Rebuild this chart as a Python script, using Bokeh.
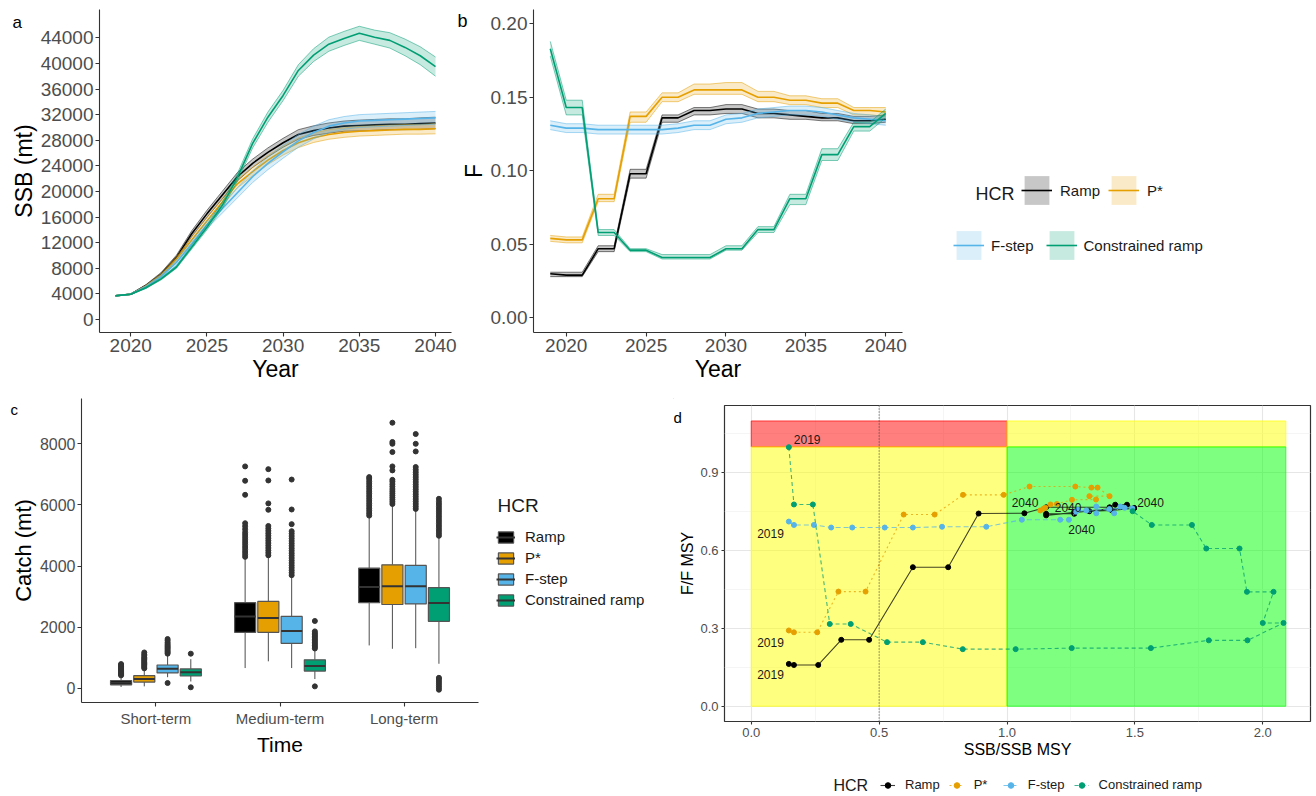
from bokeh.plotting import figure
from bokeh.layouts import column, row
from bokeh.models import Range1d, FixedTicker, NumeralTickFormatter, Legend, LegendItem, Label, Span
from bokeh.embed import file_html
from bokeh.resources import INLINE
from bokeh.core.properties import value

FONT = "Liberation Sans"

# ---------------- data ----------------
HCRS = ["Ramp", "P*", "F-step", "Constrained ramp"]
COLORS = ["#000000", "#E69F00", "#56B4E9", "#009E73"]
YEARS = [2019, 2020, 2021, 2022, 2023, 2024, 2025, 2026, 2027, 2028, 2029,
         2030, 2031, 2032, 2033, 2034, 2035, 2036, 2037, 2038, 2039, 2040]

# panel a: SSB (mt), median and band
SSB_RAMP_MED = [3700, 3950, 5300, 7100, 9700, 13400, 16500, 19400, 22300, 24400, 26100, 27600, 28900, 29500, 29900, 30200, 30300, 30400, 30500, 30500, 30600, 30700]
SSB_RAMP_LO = [3650, 3900, 5150, 6850, 9350, 12950, 15950, 18800, 21650, 23750, 25400, 26900, 28150, 28750, 29100, 29400, 29450, 29550, 29650, 29650, 29700, 29800]
SSB_RAMP_HI = [3750, 4000, 5450, 7350, 10050, 13850, 17050, 20000, 22950, 25050, 26800, 28300, 29650, 30250, 30700, 31000, 31150, 31250, 31350, 31350, 31500, 31600]
SSB_PSTAR_MED = [3700, 3950, 5200, 6900, 9400, 12400, 15400, 18300, 21200, 23100, 24900, 26400, 27600, 28400, 28900, 29200, 29400, 29500, 29600, 29700, 29700, 29800]
SSB_PSTAR_LO = [3650, 3900, 5050, 6650, 9050, 11950, 14850, 17700, 20550, 22450, 24200, 25700, 26850, 27650, 28150, 28450, 28650, 28750, 28850, 28950, 28950, 29000]
SSB_PSTAR_HI = [3750, 4000, 5350, 7150, 9750, 12850, 15950, 18900, 21850, 23750, 25600, 27100, 28350, 29150, 29650, 29950, 30150, 30250, 30350, 30450, 30450, 30600]
SSB_FSTEP_MED = [3700, 3950, 5100, 6700, 8900, 11800, 14800, 17300, 19800, 22300, 24400, 26200, 27900, 29200, 30200, 30700, 31000, 31100, 31200, 31300, 31400, 31500]
SSB_FSTEP_LO = [3650, 3900, 4900, 6400, 8500, 11300, 14200, 16600, 19000, 21400, 23400, 25200, 26900, 28200, 29200, 29700, 30000, 30100, 30200, 30300, 30400, 30500]
SSB_FSTEP_HI = [3750, 4000, 5300, 7000, 9300, 12300, 15400, 18000, 20600, 23200, 25400, 27200, 28900, 30200, 31200, 31700, 32000, 32100, 32200, 32300, 32400, 32500]
SSB_CONS_MED = [3700, 3950, 4950, 6350, 8200, 11300, 14400, 17800, 22200, 27500, 31600, 35000, 38900, 41300, 43000, 43900, 44700, 44100, 43600, 42500, 41200, 39500]
SSB_CONS_LO = [3650, 3900, 4850, 6200, 8000, 11000, 14000, 17300, 21600, 26800, 30800, 34200, 38000, 40300, 41900, 42800, 43600, 43000, 42400, 41200, 39800, 38000]
SSB_CONS_HI = [3750, 4000, 5050, 6500, 8400, 11600, 14800, 18300, 22800, 28200, 32400, 35800, 39800, 42300, 44100, 45000, 45800, 45200, 44800, 43800, 42600, 41000]

# panel b: F, median and band
F_RAMP_MED = [0.030, 0.029, 0.029, 0.047, 0.047, 0.098, 0.098, 0.136, 0.136, 0.141, 0.141, 0.142, 0.142, 0.139, 0.139, 0.138, 0.137, 0.136, 0.136, 0.134, 0.134, 0.135]
F_RAMP_LO = [0.028, 0.028, 0.028, 0.045, 0.045, 0.095, 0.095, 0.133, 0.133, 0.138, 0.138, 0.139, 0.139, 0.136, 0.136, 0.135, 0.135, 0.134, 0.134, 0.132, 0.132, 0.133]
F_RAMP_HI = [0.031, 0.031, 0.031, 0.049, 0.049, 0.101, 0.101, 0.138, 0.138, 0.143, 0.143, 0.145, 0.145, 0.142, 0.142, 0.141, 0.141, 0.139, 0.139, 0.137, 0.137, 0.138]
F_PSTAR_MED = [0.054, 0.053, 0.053, 0.081, 0.081, 0.137, 0.137, 0.150, 0.150, 0.155, 0.155, 0.155, 0.155, 0.150, 0.150, 0.148, 0.148, 0.146, 0.146, 0.141, 0.141, 0.140]
F_PSTAR_LO = [0.052, 0.051, 0.051, 0.079, 0.079, 0.133, 0.133, 0.147, 0.147, 0.152, 0.152, 0.152, 0.152, 0.147, 0.147, 0.145, 0.145, 0.143, 0.143, 0.138, 0.138, 0.137]
F_PSTAR_HI = [0.056, 0.055, 0.055, 0.084, 0.084, 0.140, 0.140, 0.153, 0.153, 0.159, 0.159, 0.160, 0.160, 0.154, 0.154, 0.151, 0.151, 0.149, 0.149, 0.143, 0.143, 0.143]
F_FSTEP_MED = [0.131, 0.129, 0.129, 0.128, 0.128, 0.128, 0.128, 0.128, 0.129, 0.131, 0.131, 0.135, 0.136, 0.139, 0.140, 0.141, 0.141, 0.140, 0.138, 0.136, 0.135, 0.134]
F_FSTEP_LO = [0.128, 0.126, 0.126, 0.125, 0.125, 0.125, 0.125, 0.125, 0.126, 0.128, 0.128, 0.132, 0.133, 0.136, 0.137, 0.138, 0.138, 0.137, 0.135, 0.133, 0.132, 0.131]
F_FSTEP_HI = [0.134, 0.132, 0.132, 0.131, 0.131, 0.131, 0.131, 0.131, 0.132, 0.134, 0.134, 0.138, 0.139, 0.142, 0.143, 0.144, 0.144, 0.143, 0.141, 0.139, 0.138, 0.137]
F_CONS_MED = [0.183, 0.143, 0.143, 0.058, 0.058, 0.046, 0.046, 0.041, 0.041, 0.041, 0.041, 0.047, 0.047, 0.060, 0.060, 0.081, 0.081, 0.111, 0.111, 0.130, 0.130, 0.139]
F_CONS_LO = [0.178, 0.138, 0.138, 0.056, 0.056, 0.045, 0.045, 0.040, 0.040, 0.040, 0.040, 0.046, 0.046, 0.058, 0.058, 0.077, 0.077, 0.107, 0.107, 0.127, 0.127, 0.136]
F_CONS_HI = [0.188, 0.148, 0.148, 0.060, 0.060, 0.047, 0.047, 0.043, 0.043, 0.043, 0.043, 0.049, 0.049, 0.062, 0.062, 0.084, 0.084, 0.115, 0.115, 0.133, 0.133, 0.142]

# panel c: catch box plots, rows = term, columns = HCR
TERMS = ["Short-term", "Medium-term", "Long-term"]
CATCH_Q1 = [[110, 200, 500, 400], [1830, 1830, 1470, 560], [2800, 2740, 2760, 2190]]
CATCH_MED = [[175, 300, 640, 520], [2350, 2300, 1870, 730], [3310, 3340, 3340, 2790]]
CATCH_Q3 = [[250, 410, 760, 630], [2800, 2840, 2350, 930], [3930, 4040, 4020, 3290]]
CATCH_WLO = [[40, 60, 360, 220], [660, 880, 660, 300], [1400, 1290, 1310, 800]]
CATCH_WHI = [[380, 620, 1100, 950], [4250, 4300, 3640, 1260], [5600, 5980, 5820, 4940]]
OUT_RAMP = [[420, 450, 480, 510, 540, 570, 600, 630, 660, 690, 720, 760, 790],
            [4300, 4380, 4460, 4540, 4620, 4700, 4780, 4860, 4940, 5020, 5100, 5200, 5300, 5400, 6330, 6790, 7260],
            [5650, 5730, 5810, 5890, 5970, 6050, 6130, 6210, 6290, 6370, 6450, 6530, 6610, 6690, 6770, 6850, 6910]]
OUT_PSTAR = [[650, 690, 730, 770, 810, 850, 890, 930, 970, 1010, 1060, 1110, 1170],
             [4350, 4430, 4510, 4590, 4670, 4750, 4830, 4910, 4990, 5070, 5150, 5230, 5310, 5840, 6050, 6800, 7170],
             [6030, 6100, 6170, 6240, 6310, 6380, 6450, 6520, 6600, 6680, 6760, 6820, 7130, 7260, 7730, 8000, 8060, 8690]]
OUT_FSTEP = [[170, 1130, 1170, 1210, 1250, 1290, 1330, 1370, 1410, 1450, 1500, 1560, 1610],
             [3700, 3780, 3860, 3940, 4020, 4100, 4180, 4260, 4340, 4420, 4500, 4580, 4660, 4740, 4820, 4900, 4980, 5060, 5140, 5370, 5850, 6830],
             [5870, 5950, 6030, 6110, 6190, 6270, 6350, 6430, 6510, 6590, 6670, 6750, 6830, 6910, 6990, 7070, 7150, 7240, 7750, 8000, 8320]]
OUT_CONS = [[30, 1130],
            [60, 1300, 1350, 1400, 1450, 1500, 1550, 1600, 1650, 1700, 1750, 1800, 1860, 2200],
            [-50, 20, 90, 160, 230, 300, 340, 4990, 5070, 5150, 5230, 5310, 5390, 5470, 5550, 5630, 5710, 5790, 5870, 5950, 6030, 6110, 6200]]

# panel d: Kobe trajectories
KOBE_RAMP_X = [0.147, 0.167, 0.262, 0.352, 0.461, 0.632, 0.770, 0.889, 1.068, 1.153, 1.401, 1.423, 1.469, 1.497, 1.410, 1.322, 1.263, 1.263, 1.153, 1.153, 1.401, 1.497]
KOBE_RAMP_Y = [0.163, 0.159, 0.159, 0.256, 0.256, 0.536, 0.536, 0.743, 0.744, 0.767, 0.767, 0.777, 0.777, 0.764, 0.755, 0.752, 0.750, 0.742, 0.742, 0.736, 0.761, 0.764]
KOBE_PSTAR_X = [0.147, 0.167, 0.258, 0.341, 0.447, 0.596, 0.717, 0.828, 0.987, 1.088, 1.267, 1.330, 1.354, 1.401, 1.322, 1.348, 1.254, 1.195, 1.170, 1.130, 1.143, 1.150]
KOBE_PSTAR_Y = [0.292, 0.285, 0.285, 0.442, 0.442, 0.739, 0.739, 0.815, 0.815, 0.847, 0.847, 0.843, 0.843, 0.810, 0.810, 0.797, 0.796, 0.780, 0.778, 0.755, 0.762, 0.765]
KOBE_FSTEP_X = [0.147, 0.167, 0.245, 0.3125, 0.395, 0.522, 0.632, 0.746, 0.919, 1.058, 1.208, 1.242, 1.277, 1.349, 1.349, 1.419, 1.443, 1.490, 1.460, 1.400, 1.310, 1.270]
KOBE_FSTEP_Y = [0.712, 0.699, 0.699, 0.689, 0.689, 0.689, 0.689, 0.692, 0.692, 0.719, 0.719, 0.719, 0.757, 0.744, 0.770, 0.744, 0.770, 0.763, 0.765, 0.760, 0.755, 0.750]
KOBE_CONS_X = [0.147, 0.167, 0.241, 0.307, 0.389, 0.531, 0.671, 0.827, 1.034, 1.253, 1.5625, 1.789, 1.940, 2.081, 2.000, 2.042, 1.938, 1.909, 1.779, 1.723, 1.566, 1.491]
KOBE_CONS_Y = [0.999, 0.778, 0.778, 0.317, 0.317, 0.247, 0.247, 0.220, 0.220, 0.224, 0.224, 0.254, 0.254, 0.321, 0.321, 0.441, 0.441, 0.608, 0.608, 0.699, 0.699, 0.752]

ZONE_LEFT = [0.0, 0.0, 1.0, 1.0]
ZONE_RIGHT = [1.0, 1.0, 2.09, 2.09]
ZONE_BOTTOM = [1.0, 0.0, 1.0, 0.0]
ZONE_TOP = [1.1, 1.0, 1.1, 1.0]
ZONE_COLORS = ["#FF0000", "#FFFF00", "#FFFF00", "#00FF00"]

SSB_SETS = [(SSB_RAMP_LO, SSB_RAMP_MED, SSB_RAMP_HI), (SSB_PSTAR_LO, SSB_PSTAR_MED, SSB_PSTAR_HI),
            (SSB_FSTEP_LO, SSB_FSTEP_MED, SSB_FSTEP_HI), (SSB_CONS_LO, SSB_CONS_MED, SSB_CONS_HI)]
F_SETS = [(F_RAMP_LO, F_RAMP_MED, F_RAMP_HI), (F_PSTAR_LO, F_PSTAR_MED, F_PSTAR_HI),
          (F_FSTEP_LO, F_FSTEP_MED, F_FSTEP_HI), (F_CONS_LO, F_CONS_MED, F_CONS_HI)]
OUTLIERS = [OUT_RAMP, OUT_PSTAR, OUT_FSTEP, OUT_CONS]
KOBE = [(KOBE_RAMP_X, KOBE_RAMP_Y), (KOBE_PSTAR_X, KOBE_PSTAR_Y), (KOBE_FSTEP_X, KOBE_FSTEP_Y), (KOBE_CONS_X, KOBE_CONS_Y)]

# off-screen stand-in data used only to give legend-only renderers something to draw
HIDDEN_X = [9.0]
HIDDEN_Y = [9.0]


# ---------------- helpers ----------------
def style_axes(p, tick_px, title_px, tick_out=4, classic=True):
    p.background_fill_color = "white"
    p.border_fill_color = "white"
    if classic:
        p.outline_line_color = None
        p.grid.visible = False
    for ax in p.axis:
        ax.axis_line_color = "#333333" if classic else None
        ax.axis_line_width = 1.1
        ax.major_tick_line_color = "#333333"
        ax.major_tick_line_width = 1.1
        ax.major_tick_out = tick_out
        ax.major_tick_in = 0
        ax.minor_tick_line_color = None
        ax.major_label_text_font = FONT
        ax.major_label_text_font_size = f"{tick_px}px"
        ax.major_label_text_color = "#4D4D4D"
        ax.major_label_standoff = 2
        ax.axis_label_text_font = FONT
        ax.axis_label_text_font_size = f"{title_px}px"
        ax.axis_label_text_font_style = "normal"
        ax.axis_label_text_color = "#000000"
        ax.axis_label_standoff = 1


def plain_legend(items, loc, **kw):
    opts = dict(location=loc, padding=0, margin=0, spacing=0, label_standoff=0,
                border_line_color=None, background_fill_alpha=0,
                label_text_font=FONT, label_text_color="#1A1A1A")
    opts.update(kw)
    return Legend(items=items, **opts)


def panel_tag(p, text, size, offset, standoff):
    # the panel letter is the plot title, pulled left of and down beside the frame
    p.title.text = text
    p.title.align = "left"
    p.title.offset = offset
    p.title.standoff = standoff
    p.title.text_font = FONT
    p.title.text_font_size = f"{size}px"
    p.title.text_font_style = "normal"
    p.title.text_color = "#000000"


def band_panel(p, sets):
    for h, (lo, med, hi) in enumerate(sets):
        c = COLORS[h]
        p.varea(x=YEARS, y1=lo, y2=hi, fill_color=c, fill_alpha=0.22)
        p.line(YEARS, lo, line_color=c, line_alpha=0.5, line_width=1)
        p.line(YEARS, hi, line_color=c, line_alpha=0.5, line_width=1)
        p.line(YEARS, med, line_color=c, line_width=1.6)


def blank_fig(width, height):
    f = figure(width=width, height=height, x_range=Range1d(0, 1), y_range=Range1d(0, 1),
               x_axis_location=None, y_axis_location=None, output_backend="svg", toolbar_location=None,
               min_border_left=0, min_border_right=0, min_border_top=0, min_border_bottom=0)
    f.outline_line_color = None
    f.grid.visible = False
    return f


# ---------------- panel a ----------------
pa = figure(width=457, height=390, x_range=Range1d(2017.95, 2041.05), y_range=Range1d(-2030, 48420),
            output_backend="svg", toolbar_location=None,
            min_border_left=99, min_border_right=6, min_border_top=9, min_border_bottom=58)
band_panel(pa, SSB_SETS)
pa.xaxis.axis_label = "Year"
pa.yaxis.axis_label = "SSB (mt)"
pa.xaxis.ticker = FixedTicker(ticks=[2020, 2025, 2030, 2035, 2040])
pa.yaxis.ticker = FixedTicker(ticks=[0, 4000, 8000, 12000, 16000, 20000, 24000, 28000, 32000, 36000, 40000, 44000])
pa.yaxis.formatter = NumeralTickFormatter(format="0")
style_axes(pa, 19, 23)
panel_tag(pa, "a", 17, -87, -44)

# ---------------- panel b ----------------
pb = figure(width=453, height=390, x_range=Range1d(2017.95, 2041.05), y_range=Range1d(-0.0100, 0.2097),
            output_backend="svg", toolbar_location=None,
            min_border_left=76, min_border_right=8, min_border_top=9, min_border_bottom=58)
band_panel(pb, F_SETS)
pb.xaxis.axis_label = "Year"
pb.yaxis.axis_label = "F"
pb.xaxis.ticker = FixedTicker(ticks=[2020, 2025, 2030, 2035, 2040])
pb.yaxis.ticker = FixedTicker(ticks=[0.0, 0.05, 0.10, 0.15, 0.20])
pb.yaxis.formatter = NumeralTickFormatter(format="0.00")
style_axes(pb, 19, 23)
panel_tag(pb, "b", 18, -76, -42)

# ---------------- legend for a / b ----------------
lf = blank_fig(404, 390)
ab_items = []
for h, name in enumerate(HCRS):
    rb = lf.varea(x=HIDDEN_X, y1=HIDDEN_Y, y2=HIDDEN_Y, fill_color=COLORS[h], fill_alpha=0.22)
    rm = lf.line(HIDDEN_X, HIDDEN_Y, line_color=COLORS[h], line_width=1.6)
    ab_items.append(LegendItem(label=value(name), renderers=[rb, rm]))
ab_common = dict(orientation="horizontal", glyph_width=31, glyph_height=36, label_height=36,
                 label_text_font_size="15px")
lf.add_layout(plain_legend(ab_items[:2], (111, 124), label_standoff=8, spacing=8, **ab_common))
lf.add_layout(plain_legend(ab_items[2:], (43, 69), label_standoff=7, spacing=12, **ab_common))
lf.add_layout(Label(x=65, y=139, x_units="screen", y_units="screen", text="HCR",
                    text_font=FONT, text_font_size="18px", text_color="#1A1A1A", text_baseline="middle"))

# ---------------- panel c ----------------
pc = figure(width=490, height=404, x_range=Range1d(0.4, 3.6), y_range=Range1d(-468, 9483),
            output_backend="svg", toolbar_location=None,
            min_border_left=81, min_border_right=12, min_border_top=8, min_border_bottom=92)
OFFSETS = [-0.281, -0.094, 0.094, 0.281]
BOX_W = 0.17
for h, name in enumerate(HCRS):
    xs = [t + 1 + OFFSETS[h] for t in range(len(TERMS))]
    q1 = [CATCH_Q1[t][h] for t in range(len(TERMS))]
    md = [CATCH_MED[t][h] for t in range(len(TERMS))]
    q3 = [CATCH_Q3[t][h] for t in range(len(TERMS))]
    wl = [CATCH_WLO[t][h] for t in range(len(TERMS))]
    wh = [CATCH_WHI[t][h] for t in range(len(TERMS))]
    pc.segment(x0=xs, y0=q3, x1=xs, y1=wh, line_color="#4D4D4D", line_width=1)
    pc.segment(x0=xs, y0=q1, x1=xs, y1=wl, line_color="#4D4D4D", line_width=1)
    pc.vbar(x=xs, width=BOX_W, bottom=q1, top=q3, fill_color=COLORS[h], line_color="#555555", line_width=1.2)
    pc.segment(x0=[x - BOX_W / 2 for x in xs], y0=md, x1=[x + BOX_W / 2 for x in xs], y1=md,
               line_color="#333333", line_width=2)
    ox, oy = [], []
    for t in range(len(TERMS)):
        for v in OUTLIERS[h][t]:
            ox.append(xs[t])
            oy.append(v)
    pc.scatter(ox, oy, size=5, fill_color="#333333", line_color="#333333")

pc.xaxis.axis_label = "Time"
pc.yaxis.axis_label = "Catch (mt)"
pc.xaxis.ticker = FixedTicker(ticks=[i + 1 for i in range(len(TERMS))])
pc.xaxis.major_label_overrides = {i + 1: t for i, t in enumerate(TERMS)}
pc.yaxis.ticker = FixedTicker(ticks=[0, 2000, 4000, 6000, 8000])
pc.yaxis.formatter = NumeralTickFormatter(format="0")
style_axes(pc, 16, 22)
pc.xaxis.major_label_text_font_size = "15px"
pc.xaxis.axis_label_text_font_size = "21px"
pc.xaxis.major_label_standoff = 3
pc.xaxis.axis_label_standoff = 3
panel_tag(pc, "c", 15, -71, -38)

# ---------------- legend for c ----------------
clf = blank_fig(184, 404)
c_items = []
for h, name in enumerate(HCRS):
    rbox = clf.vbar(x=HIDDEN_X, width=0.1, top=HIDDEN_Y, bottom=HIDDEN_Y, fill_color=COLORS[h],
                    line_color="#555555", line_width=1.2)
    rmed = clf.segment(x0=HIDDEN_X, y0=HIDDEN_Y, x1=HIDDEN_X, y1=HIDDEN_Y, line_color="#333333", line_width=2)
    c_items.append(LegendItem(label=value(name), renderers=[rbox, rmed]))
clf.add_layout(plain_legend(c_items, (6, 92), orientation="vertical", glyph_width=19, glyph_height=14,
                            label_height=21, label_text_font_size="15px", label_standoff=10))
clf.add_layout(Label(x=7, y=197, x_units="screen", y_units="screen", text="HCR",
                     text_font=FONT, text_font_size="19px", text_color="#1A1A1A", text_baseline="middle"))

# ---------------- panel d ----------------
pd_ = figure(width=640, height=378, x_range=Range1d(-0.1045, 2.1865), y_range=Range1d(-0.059, 1.1596),
             output_backend="svg", toolbar_location=None,
             min_border_left=50, min_border_right=4, min_border_top=15, min_border_bottom=47)
pd_.outline_line_color = "#333333"
pd_.outline_line_width = 1.2
xt = FixedTicker(ticks=[0.0, 0.5, 1.0, 1.5, 2.0], minor_ticks=[0.25, 0.75, 1.25, 1.75])
yt = FixedTicker(ticks=[0.0, 0.3, 0.6, 0.9], minor_ticks=[0.15, 0.45, 0.75, 1.05])
pd_.xaxis.ticker = xt
pd_.yaxis.ticker = yt
pd_.xgrid.ticker = xt
pd_.ygrid.ticker = yt
pd_.grid.grid_line_color = "#E6E6E6"
pd_.grid.grid_line_width = 1.1
pd_.grid.minor_grid_line_color = "#F0F0F0"
pd_.grid.minor_grid_line_width = 0.7
pd_.xaxis.formatter = NumeralTickFormatter(format="0.0")
pd_.yaxis.formatter = NumeralTickFormatter(format="0.0")
pd_.xaxis.axis_label = "SSB/SSB MSY"
pd_.yaxis.axis_label = "F/F MSY"
style_axes(pd_, 13, 16, tick_out=3, classic=False)
panel_tag(pd_, "d", 15, -51, -41)

pd_.quad(left=ZONE_LEFT, right=ZONE_RIGHT, bottom=ZONE_BOTTOM, top=ZONE_TOP,
         fill_color=ZONE_COLORS, fill_alpha=0.5, line_color=ZONE_COLORS, line_alpha=0.7, line_width=1)
pd_.add_layout(Span(location=0.5, dimension="height", line_color="#444444", line_width=1, line_dash="1 2"))

DASHES = ["solid", "2 3", "5 3", "4 3"]
for h, name in enumerate(HCRS):
    kx, ky = KOBE[h]
    pd_.line(kx, ky, line_color=COLORS[h], line_width=1.1, line_alpha=0.75, line_dash=DASHES[h])
    pd_.scatter(kx, ky, size=5, fill_color=COLORS[h], line_color=COLORS[h])

# year labels at first / last points (offsets in pixels)
FIRST_OFF = [(-5, 11, "right"), (-5, 12, "right"), (-5, 12, "right"), (5, -8, "left")]
LAST_OFF = [(3, -6, "left"), (-7, -5, "right"), (-8, -4, "center"), (-51, 18, "center")]
for h in range(len(HCRS)):
    kx, ky = KOBE[h]
    fx, fy, fa = FIRST_OFF[h]
    pd_.text(x=[kx[0]], y=[ky[0]], text=[str(YEARS[0])], x_offset=fx, y_offset=fy, text_align=fa,
             text_baseline="middle", text_font=value(FONT), text_font_size="12px", text_color="#1A1A1A")
    lx, ly, la = LAST_OFF[h]
    pd_.text(x=[kx[-1]], y=[ky[-1]], text=[str(YEARS[-1])], x_offset=lx, y_offset=ly, text_align=la,
             text_baseline="middle", text_font=value(FONT), text_font_size="12px", text_color="#1A1A1A")

# ---------------- legend for d ----------------
dlf = blank_fig(640, 26)
d_items = []
for h, name in enumerate(HCRS):
    rl = dlf.line(HIDDEN_X, HIDDEN_Y, line_color=COLORS[h], line_width=1.1, line_alpha=0.75, line_dash=DASHES[h])
    rs = dlf.scatter(HIDDEN_X, HIDDEN_Y, size=5, fill_color=COLORS[h], line_color=COLORS[h])
    d_items.append(LegendItem(label=value(name), renderers=[rl, rs]))
dlf.add_layout(plain_legend(d_items, (156, 2), orientation="horizontal", glyph_width=15, glyph_height=14,
                            label_height=14, label_text_font_size="13px", label_standoff=10, spacing=9))
dlf.add_layout(Label(x=109, y=9, x_units="screen", y_units="screen", text="HCR",
                     text_font=FONT, text_font_size="16px", text_color="#1A1A1A", text_baseline="middle"))

layout = column(row(pa, pb, lf, spacing=0),
                row(pc, clf, column(pd_, dlf, spacing=0), spacing=0), spacing=0)
open("out.html", "w").write(file_html(layout, INLINE))
